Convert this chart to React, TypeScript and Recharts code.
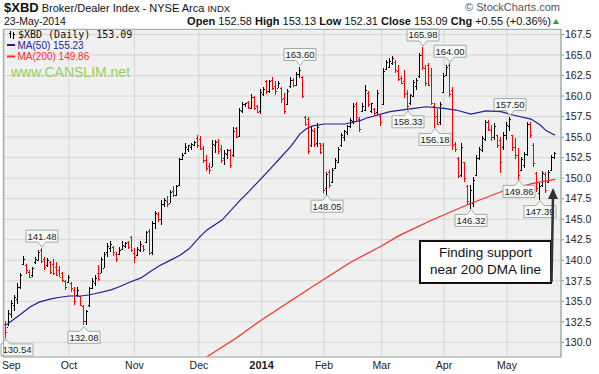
import { ComposedChart, Bar, Line, XAxis, YAxis, CartesianGrid, ReferenceDot } from 'recharts';

// daily bars, 30-Aug-2013 .. 23-May-2014 (index 0 = first bar)
const OPEN = [
  132.3, 131.9, 133.5, 134.6, 135.3, 136.8, 139.6, 139.4, 138.6, 138.2, 139.8, 140.0, 141.2, 140.2, 139.4, 139.8, 139.5, 139.2, 138.8, 138.4,
  137.5, 137.4, 137.2, 136.4, 135.8, 135.6, 134.4, 132.6, 134.6, 136.6, 137.2, 138.5, 138.4, 139.0, 141.0, 141.5, 141.6, 140.8, 140.8, 141.4,
  141.7, 142.2, 142.8, 140.9, 140.6, 141.2, 141.8, 142.2, 143.6, 141.0, 144.5, 145.6, 145.0, 146.9, 147.2, 147.0, 148.4, 148.0, 149.2, 152.3,
  153.1, 153.6, 153.8, 154.0, 154.9, 154.8, 153.7, 152.2, 151.5, 151.4, 154.0, 154.5, 153.6, 152.4, 153.0, 153.4, 152.8, 156.1, 155.1, 158.2,
  159.0, 159.3, 158.6, 159.9, 158.8, 158.2, 160.3, 161.8, 160.6, 162.0, 161.2, 161.0, 161.0, 159.8, 159.0, 161.2, 162.0, 161.4, 162.7, 162.3,
  157.4, 157.2, 154.0, 155.8, 154.3, 154.3, 154.0, 148.8, 150.8, 149.5, 151.2, 152.0, 154.0, 155.0, 155.6, 156.3, 157.0, 159.0, 157.2, 158.2,
  158.3, 160.4, 158.2, 158.4, 158.0, 157.6, 159.0, 163.3, 163.6, 164.0, 164.2, 163.0, 162.2, 161.8, 160.4, 159.2, 160.0, 161.2, 162.4, 165.0,
  163.4, 163.8, 162.6, 158.8, 157.6, 156.8, 160.5, 162.6, 163.8, 160.8, 154.2, 152.4, 150.4, 152.0, 149.0, 147.0, 147.0, 150.4, 152.4, 153.4,
  154.8, 156.9, 155.9, 155.0, 155.2, 154.6, 153.8, 155.2, 156.3, 155.2, 153.8, 152.8, 151.0, 151.6, 153.0, 156.6, 154.0, 150.6, 148.2, 149.2,
  150.5, 149.5, 151.0, 152.58,
];
const HIGH = [
  132.6, 133.9, 135.2, 135.8, 137.2, 138.4, 140.5, 139.6, 138.8, 139.2, 140.4, 141.2, 141.48, 140.4, 140.3, 139.9, 140.1, 139.8, 139.3, 138.6,
  137.6, 138.2, 137.4, 136.7, 136.8, 135.6, 134.5, 134.0, 136.8, 137.8, 138.2, 139.4, 140.4, 141.0, 142.1, 142.3, 141.8, 141.0, 141.6, 142.3,
  142.2, 142.3, 143.0, 141.5, 141.6, 142.3, 141.9, 143.6, 143.8, 144.8, 146.0, 145.9, 147.3, 147.6, 147.8, 148.5, 149.0, 149.2, 152.5, 153.1,
  154.3, 154.1, 154.3, 154.5, 155.2, 155.1, 153.9, 152.8, 151.9, 154.6, 154.6, 154.8, 154.0, 153.4, 153.6, 153.5, 156.2, 156.2, 158.5, 159.3,
  159.2, 159.4, 160.2, 160.0, 158.9, 160.9, 161.1, 162.0, 162.0, 162.3, 161.8, 161.8, 161.1, 160.4, 160.9, 162.3, 162.2, 162.9, 163.6, 162.4,
  157.6, 157.5, 156.3, 156.1, 156.7, 154.3, 154.3, 150.8, 151.0, 151.2, 152.4, 153.8, 155.5, 155.9, 156.5, 157.3, 159.2, 159.3, 157.5, 159.1,
  161.3, 160.6, 159.2, 158.5, 160.7, 157.7, 163.4, 164.4, 164.6, 164.9, 164.4, 163.8, 162.4, 163.2, 160.7, 160.3, 162.0, 162.2, 165.3, 165.98,
  163.8, 164.0, 163.4, 159.2, 158.4, 159.3, 162.8, 163.8, 164.0, 161.1, 154.4, 152.6, 154.3, 152.0, 149.2, 149.2, 150.2, 152.8, 153.8, 155.1,
  157.1, 157.1, 156.5, 156.7, 155.3, 155.0, 155.6, 156.8, 157.5, 155.3, 154.9, 153.7, 152.6, 153.2, 156.9, 156.9, 154.3, 150.8, 149.4, 150.9,
  150.8, 151.0, 152.8, 153.13,
];
const LOW = [
  130.54, 131.9, 133.0, 133.8, 134.6, 136.4, 139.4, 138.4, 137.8, 138.0, 139.6, 139.8, 139.6, 138.8, 139.2, 138.3, 138.2, 138.1, 137.9, 137.4,
  136.4, 137.2, 136.2, 134.5, 135.6, 134.4, 132.08, 132.2, 134.4, 136.4, 136.8, 137.4, 138.4, 139.0, 140.4, 141.0, 140.6, 139.8, 140.6, 141.2,
  141.5, 141.3, 141.0, 139.7, 140.5, 140.9, 141.1, 142.1, 140.6, 140.6, 143.8, 144.7, 144.2, 146.5, 146.5, 146.9, 147.7, 147.8, 149.1, 152.2,
  153.0, 153.3, 153.4, 153.9, 153.6, 153.4, 151.8, 150.8, 150.6, 151.3, 153.0, 153.0, 151.8, 151.6, 152.4, 151.2, 152.6, 154.8, 155.0, 157.9,
  158.7, 158.4, 158.4, 158.3, 157.9, 157.8, 160.0, 160.3, 160.4, 160.7, 160.1, 160.9, 159.1, 157.9, 158.9, 161.0, 161.1, 161.2, 162.3, 159.7,
  156.4, 153.0, 153.8, 153.8, 153.8, 153.0, 148.2, 148.05, 148.8, 149.4, 151.0, 151.8, 153.8, 154.6, 155.3, 156.1, 156.7, 156.9, 155.7, 158.0,
  158.1, 158.7, 158.0, 157.7, 157.7, 156.4, 158.9, 163.2, 163.4, 163.8, 162.8, 161.8, 161.4, 159.8, 158.33, 159.0, 159.9, 160.7, 162.2, 163.2,
  161.2, 161.2, 158.9, 156.18, 156.5, 156.5, 160.4, 162.4, 159.9, 153.4, 153.2, 150.0, 150.2, 149.6, 146.8, 146.32, 146.6, 150.2, 152.2, 153.1,
  154.6, 155.7, 154.6, 154.6, 153.7, 150.6, 153.4, 154.6, 155.8, 153.4, 152.4, 149.86, 150.9, 151.3, 152.8, 154.9, 151.4, 148.4, 147.39, 149.0,
  148.2, 149.4, 150.8, 152.31,
];
const CLOSE = [
  131.3, 133.6, 134.8, 135.5, 136.8, 138.2, 140.2, 138.8, 138.0, 139.0, 140.2, 141.0, 139.9, 139.2, 140.0, 138.6, 138.4, 138.2, 138.0, 137.6,
  136.8, 138.0, 136.6, 135.0, 136.4, 134.6, 132.6, 133.8, 136.6, 137.5, 137.9, 137.7, 140.2, 140.8, 141.8, 142.0, 141.0, 140.2, 141.3, 141.9,
  142.1, 141.6, 141.2, 140.4, 141.4, 142.0, 141.4, 143.4, 140.9, 144.6, 145.8, 145.0, 146.8, 147.3, 146.9, 148.3, 147.9, 149.0, 152.3, 152.8,
  153.8, 154.0, 154.2, 154.4, 154.0, 153.6, 152.2, 151.2, 151.0, 154.2, 154.4, 153.3, 152.2, 153.1, 153.4, 151.6, 155.8, 155.0, 158.3, 159.0,
  159.1, 158.7, 159.9, 158.6, 158.1, 160.5, 160.9, 160.6, 161.8, 161.0, 160.6, 161.6, 159.6, 158.2, 160.6, 162.0, 161.4, 162.7, 163.2, 160.0,
  156.6, 153.3, 155.9, 154.2, 156.2, 153.2, 148.6, 150.5, 149.2, 151.0, 152.2, 153.6, 155.3, 155.7, 156.3, 157.1, 158.8, 157.4, 156.0, 158.8,
  160.8, 159.0, 159.1, 157.9, 160.4, 156.8, 163.1, 164.1, 164.3, 164.6, 163.2, 162.1, 161.6, 160.2, 158.8, 160.1, 161.7, 162.0, 165.0, 163.6,
  161.6, 161.4, 159.2, 157.4, 156.6, 159.0, 162.5, 163.6, 160.2, 154.0, 153.5, 150.3, 153.8, 150.0, 147.2, 148.6, 149.8, 152.5, 153.6, 154.9,
  156.8, 156.0, 155.0, 156.4, 154.0, 152.0, 155.3, 156.5, 157.2, 153.8, 152.8, 150.4, 152.3, 153.0, 156.6, 155.2, 151.8, 148.8, 149.0, 150.6,
  148.6, 150.8, 152.54, 153.09,
];
const PRIOR_CLOSE = 132.0;

// moving averages at selected bars
const MA50_IDX = [0, 1, 5, 8, 11, 15, 18, 21, 25, 28, 31, 35, 38, 41, 45, 48, 51, 55, 58, 61, 65, 67, 72, 78, 81, 87, 92, 95, 98, 100, 102, 106, 113, 118, 120, 128, 136, 140, 146, 150, 155, 160, 165, 169, 175, 178, 180, 183];
const MA50_VAL = [132.1, 132.4, 133.45, 134.3, 134.9, 135.3, 135.5, 135.65, 135.65, 135.8, 136.05, 136.4, 136.8, 137.3, 137.85, 138.6, 139.3, 140.05, 140.6, 141.4, 143.0, 143.7, 144.9, 147.3, 148.4, 150.7, 152.7, 153.9, 155.4, 156.0, 156.35, 156.6, 156.6, 157.0, 157.3, 158.1, 158.5, 158.7, 158.5, 158.3, 157.8, 158.2, 158.1, 157.7, 157.2, 156.5, 155.8, 155.23];
const MA200_IDX = [62, 67, 77, 85, 98, 106, 115, 125, 131, 142, 154, 165, 176, 183];
const MA200_VAL = [127.1, 128.25, 130.6, 132.7, 135.8, 137.7, 139.8, 141.7, 143.0, 144.9, 146.8, 148.35, 149.4, 149.86];

const MONTH_TICKS = [-0.5, 21, 42.8, 64.3, 85.2, 106, 125.2, 146, 167];
const MONTH_LABELS = ['Sep', 'Oct', 'Nov', 'Dec', '2014', 'Feb', 'Mar', 'Apr', 'May'];
const PRICE_TICKS = [130, 132.5, 135, 137.5, 140, 142.5, 145, 147.5, 150, 152.5, 155, 157.5, 160, 162.5, 165, 167.5];

// marked highs / lows
const HIGH_MARKS = [12, 98, 139, 148, 168];
const LOW_MARKS = [0, 26, 107, 134, 143, 155, 171, 178];

const FONT = '"Liberation Sans", Arial, sans-serif';
const UP = '#000000';
const DOWN = '#ff0000';

const data = CLOSE.map((c, i) => {
  const prev = i === 0 ? PRIOR_CLOSE : CLOSE[i - 1];
  const k50 = MA50_IDX.indexOf(i);
  const k200 = MA200_IDX.indexOf(i);
  return {
    i,
    open: OPEN[i],
    high: HIGH[i],
    low: LOW[i],
    close: c,
    range: [LOW[i], HIGH[i]],
    up: c >= prev,
    ma50: k50 >= 0 ? MA50_VAL[k50] : null,
    ma200: k200 >= 0 ? MA200_VAL[k200] : null,
  };
});

const OhlcBar = (props: any) => {
  const { x, y, width, height, payload } = props;
  if (x == null || y == null || !payload) return null;
  const top = Math.min(y, y + height);
  const h = Math.max(Math.abs(height), 1);
  const span = payload.high - payload.low || 1;
  const toY = (v: number) => Math.round(top + ((payload.high - v) / span) * h);
  const cx = Math.floor(x + width / 2);
  const color = payload.up ? UP : DOWN;
  return (
    <g fill={color} shapeRendering="crispEdges">
      <rect x={cx} y={Math.round(top)} width={1} height={Math.max(Math.round(h), 1)} />
      <rect x={cx - 1} y={toY(payload.open)} width={1} height={1} />
      <rect x={cx + 1} y={toY(payload.close)} width={1} height={1} />
    </g>
  );
};

// price box with a small pointer; kept inside the picture at the left edge
const callout = (text: string, below: boolean) => (p: any) => {
  const { cx, cy } = p;
  const w = 32;
  const bh = 12;
  const x0 = Math.max(cx - w / 2, 1);
  const x1 = x0 + w;
  const nl = Math.max(cx - 4, x0);
  const nr = Math.max(cx + 4, x0 + 4);
  const mid = (x0 + x1) / 2;
  let d: string;
  let ty: number;
  if (below) {
    const tip = cy + 1;
    const base = tip + 5;
    d = `M${x0},${base} H${nl} L${cx},${tip} L${nr},${base} H${x1} V${base + bh} H${x0} Z`;
    ty = base + bh - 2.5;
  } else {
    const tip = cy - 1;
    const base = tip - 5;
    d = `M${x0},${base - bh} H${x1} V${base} H${nr} L${cx},${tip} L${nl},${base} H${x0} Z`;
    ty = base - 2.5;
  }
  return (
    <g>
      <path d={d} fill="#f7f9f7" stroke="#9fada5" strokeWidth={1} />
      <text x={mid} y={ty} textAnchor="middle" fontSize={9.5} fontFamily={FONT} fill="#222">
        {text}
      </text>
    </g>
  );
};

const MonthTick = (props: any) => {
  const { x, y, index } = props;
  const label = MONTH_LABELS[index];
  const first = index === 0;
  return (
    <text
      x={first ? 2 : x}
      y={y + 11.5}
      textAnchor={first ? 'start' : 'middle'}
      fontSize={label === '2014' ? 11 : 10.5}
      fontWeight={label === '2014' ? 700 : 400}
      fontFamily={FONT}
      fill="#222"
    >
      {label}
    </text>
  );
};

const PriceTick = (props: any) => {
  const { x, y, payload } = props;
  return (
    <text x={x} y={y + 3.7} fontSize={10.5} fontFamily={FONT} fill="#222">
      {Number(payload.value).toFixed(1)}
    </text>
  );
};

export default function App() {
  return (
    <div style={{ position: 'absolute', left: 0, top: 0, width: 599, height: 374, background: '#fff' }}>
      <ComposedChart width={599} height={374} data={data} margin={{ top: 29, right: 0, bottom: 0, left: 3 }}>
        <CartesianGrid stroke="#d6d6d6" fill="#f0f0f0" />
        <XAxis
          dataKey="i"
          type="number"
          domain={[-1, 185]}
          ticks={MONTH_TICKS}
          interval={0}
          height={17}
          tickSize={0}
          tickMargin={0}
          axisLine={false}
          tick={<MonthTick />}
          allowDataOverflow
        />
        <YAxis
          orientation="right"
          type="number"
          domain={[128.22, 168.17]}
          ticks={PRICE_TICKS}
          interval={0}
          width={38}
          tickSize={3}
          tickMargin={1}
          axisLine={{ stroke: '#a4b4ac' }}
          tickLine={{ stroke: '#8a9a92' }}
          tick={<PriceTick />}
          allowDataOverflow
        />
        <Line dataKey="ma200" stroke="#ff2a2a" strokeWidth={1.2} dot={false} connectNulls isAnimationActive={false} />
        <Line dataKey="ma50" stroke="#1f1f9a" strokeWidth={1.2} dot={false} connectNulls isAnimationActive={false} />
        <Bar dataKey="range" barSize={3} shape={<OhlcBar />} isAnimationActive={false} />
        {HIGH_MARKS.map((i) => (
          <ReferenceDot key={`h${i}`} x={i} y={HIGH[i]} r={0} ifOverflow="visible" shape={callout(HIGH[i].toFixed(2), false)} />
        ))}
        {LOW_MARKS.map((i) => (
          <ReferenceDot key={`l${i}`} x={i} y={LOW[i]} r={0} ifOverflow="visible" shape={callout(LOW[i].toFixed(2), true)} />
        ))}
      </ComposedChart>

      <svg width={599} height={374} style={{ position: 'absolute', left: 0, top: 0, pointerEvents: 'none' }} fontFamily={FONT}>
        <rect x={3.5} y={29.5} width={557.5} height={327.5} fill="none" stroke="#a4b4ac" />
        <text x={4} y={12} fill="#111">
          <tspan fontSize={13} fontWeight={700}>$XBD</tspan>
          <tspan fontSize={11}> Broker/Dealer Index - NYSE Arca </tspan>
          <tspan fontSize={9.5}>INDX</tspan>
        </text>
        <text x={560} y={11} textAnchor="end" fontSize={11} fill="#555">© StockCharts.com</text>
        <text x={4} y={25} fontSize={10.5} fill="#111">23-May-2014</text>
        <text x={551} y={25} textAnchor="end" fontSize={11} fill="#111">
          <tspan fontWeight={700}>Open</tspan>
          <tspan> 152.58 </tspan>
          <tspan fontWeight={700}>High</tspan>
          <tspan> 153.13 </tspan>
          <tspan fontWeight={700}>Low</tspan>
          <tspan> 152.31 </tspan>
          <tspan fontWeight={700}>Close</tspan>
          <tspan> 153.09 </tspan>
          <tspan fontWeight={700}>Chg</tspan>
          <tspan> +0.55 (+0.36%)</tspan>
        </text>
        <polygon points="553,24 559,24 556,19" fill="#22aa22" />

        <g shapeRendering="crispEdges">
          <rect x={10} y={31} width={1} height={7} fill="#000" />
          <rect x={9} y={33} width={1} height={1} fill="#000" />
          <rect x={13} y={32} width={1} height={7} fill="#000" />
          <rect x={14} y={34} width={1} height={1} fill="#000" />
        </g>
        <text x={18} y={38} fontSize={10} fontFamily='"DejaVu Sans Mono", monospace' fill="#111">$XBD (Daily) 153.09</text>
        <rect x={7} y={44} width={8} height={2} fill="#1f1f9a" />
        <text x={17.5} y={48.5} fontSize={10} fill="#1f1f9a">MA(50) 155.23</text>
        <rect x={7} y={55.5} width={8} height={2} fill="#ff2a2a" />
        <text x={17.5} y={60} fontSize={10} fill="#ff2a2a">MA(200) 149.86</text>
        <text x={11} y={77} fontSize={14} fill="#96d05a">www.CANSLIM.net</text>

        <rect x={420} y={241} width={131} height={42} fill="#fff" stroke="#111" strokeWidth={2} />
        <text x={485.5} y={257} textAnchor="middle" fontSize={13.5} fill="#111">Finding support</text>
        <text x={485.5} y={274} textAnchor="middle" fontSize={13.5} fill="#111">near 200 DMA line</text>
        <line x1={551.5} y1={282} x2={553} y2={197} stroke="#333" strokeWidth={2.5} />
        <polygon points="548,199 558,199 553,188" fill="#333" />
      </svg>
    </div>
  );
}
